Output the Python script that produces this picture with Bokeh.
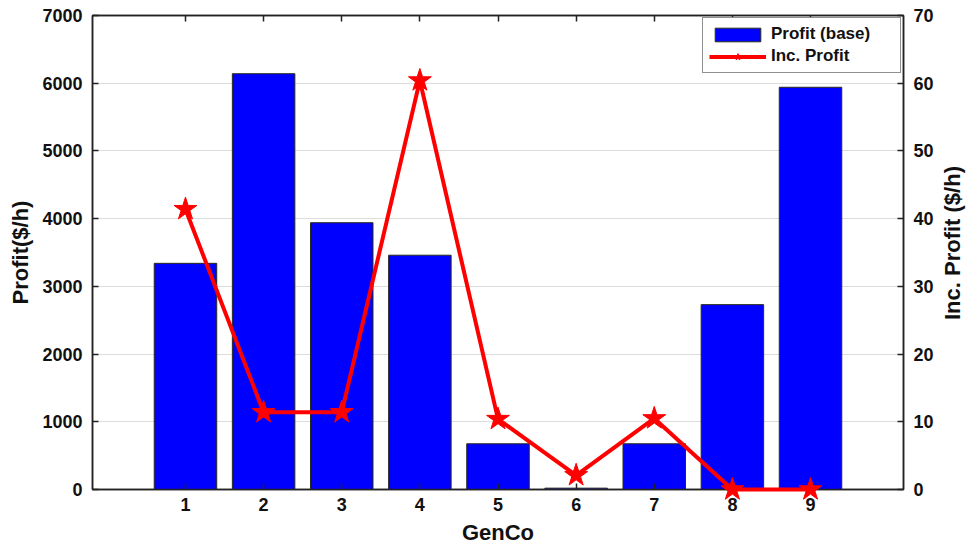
import math
from bokeh.plotting import figure
from bokeh.models import (Range1d, LinearAxis, FixedTicker, Legend, LegendItem,
                          CustomJSTickFormatter, ColumnDataSource, Label)
from bokeh.embed import file_html
from bokeh.resources import INLINE

gencos = [1, 2, 3, 4, 5, 6, 7, 8, 9]
profit_base = [3340, 6140, 3940, 3460, 675, 20, 675, 2730, 5940]
inc_profit = [41.4, 11.4, 11.4, 60.4, 10.4, 2.1, 10.5, 0.0, 0.0]
left_ticks = [0, 1000, 2000, 3000, 4000, 5000, 6000, 7000]
right_ticks = [0, 10, 20, 30, 40, 50, 60, 70]

FONT = "Liberation Sans"

src = ColumnDataSource(dict(x=gencos, profit=profit_base, inc=inc_profit))

p = figure(width=968, height=552, output_backend="svg", toolbar_location=None,
           x_range=Range1d(-0.19, 10.19), y_range=Range1d(0, 7000),
           min_border_left=92, min_border_right=65, min_border_top=15,
           min_border_bottom=63, x_axis_location="below")
p.extra_y_ranges = {"inc": Range1d(0, 70)}

p.outline_line_color = "#222222"
p.outline_line_width = 1.5
p.xgrid.grid_line_color = None
p.ygrid.grid_line_color = "#dcdcdc"
p.ygrid.grid_line_width = 1
p.ygrid.ticker = FixedTicker(ticks=left_ticks)

bars = p.vbar(x="x", top="profit", width=0.8, source=src, fill_color="#0000ff",
              line_color="#2a2a1a", line_width=1)
line = p.line(x="x", y="inc", source=src, line_color="#ff0000", line_width=4,
              y_range_name="inc", level="overlay")
stars = p.scatter(x="x", y="inc", source=src, marker="star", size=24,
                  fill_color="#ff0000", line_color="#ff0000", y_range_name="inc",
                  level="overlay")


def style_axis(ax, label_standoff=10):
    ax.major_tick_in = 6
    ax.major_tick_out = 0
    ax.minor_tick_line_color = None
    ax.axis_line_color = "#222222"
    ax.axis_line_width = 1.5
    ax.major_tick_line_color = "#222222"
    ax.major_tick_line_width = 1.5
    ax.major_label_text_font = FONT
    ax.major_label_text_font_style = "bold"
    ax.major_label_text_font_size = "18px"
    ax.major_label_text_color = "#111111"
    ax.major_label_standoff = label_standoff
    ax.axis_label_text_font = FONT
    ax.axis_label_text_font_style = "bold"
    ax.axis_label_text_font_size = "22px"
    ax.axis_label_text_color = "#111111"


xa = p.xaxis[0]
style_axis(xa, 8)
xa.ticker = FixedTicker(ticks=gencos)
xa.axis_label = "GenCo"
xa.axis_label_standoff = 6

ya = p.yaxis[0]
style_axis(ya, 10)
ya.ticker = FixedTicker(ticks=left_ticks)
ya.axis_label = "Profit($/h)"
ya.axis_label_standoff = 6

ra = LinearAxis(y_range_name="inc", ticker=FixedTicker(ticks=right_ticks))
style_axis(ra, 10)
p.add_layout(ra, "right")

# right-hand axis title, living in the right side panel so it is not clipped
right_title = Label(text="Inc. Profit ($/h)", x=10.82, y=3640,
                    angle=math.pi / 2, text_align="center",
                    text_baseline="middle", text_font=FONT,
                    text_font_style="bold", text_font_size="22px",
                    text_color="#111111")
p.add_layout(right_title, "right")

ta = LinearAxis(ticker=FixedTicker(ticks=gencos),
                formatter=CustomJSTickFormatter(code="return ''"))
style_axis(ta, 0)
p.add_layout(ta, "above")

legend = Legend(items=[LegendItem(label="Profit (base)", renderers=[bars]),
                       LegendItem(label="Inc. Profit", renderers=[line, stars])],
                location="top_right")
legend.label_text_font = FONT
legend.label_text_font_style = "bold"
legend.label_text_font_size = "17px"
legend.label_text_color = "#111111"
legend.glyph_width = 57
legend.glyph_height = 17
legend.label_height = 17
legend.label_width = 123
legend.spacing = 2
legend.padding = 6
legend.margin = 2
legend.label_standoff = 5
legend.border_line_color = "#222222"
legend.border_line_width = 1
legend.background_fill_alpha = 1
p.add_layout(legend)

open("out.html", "w").write(file_html(p, INLINE))
